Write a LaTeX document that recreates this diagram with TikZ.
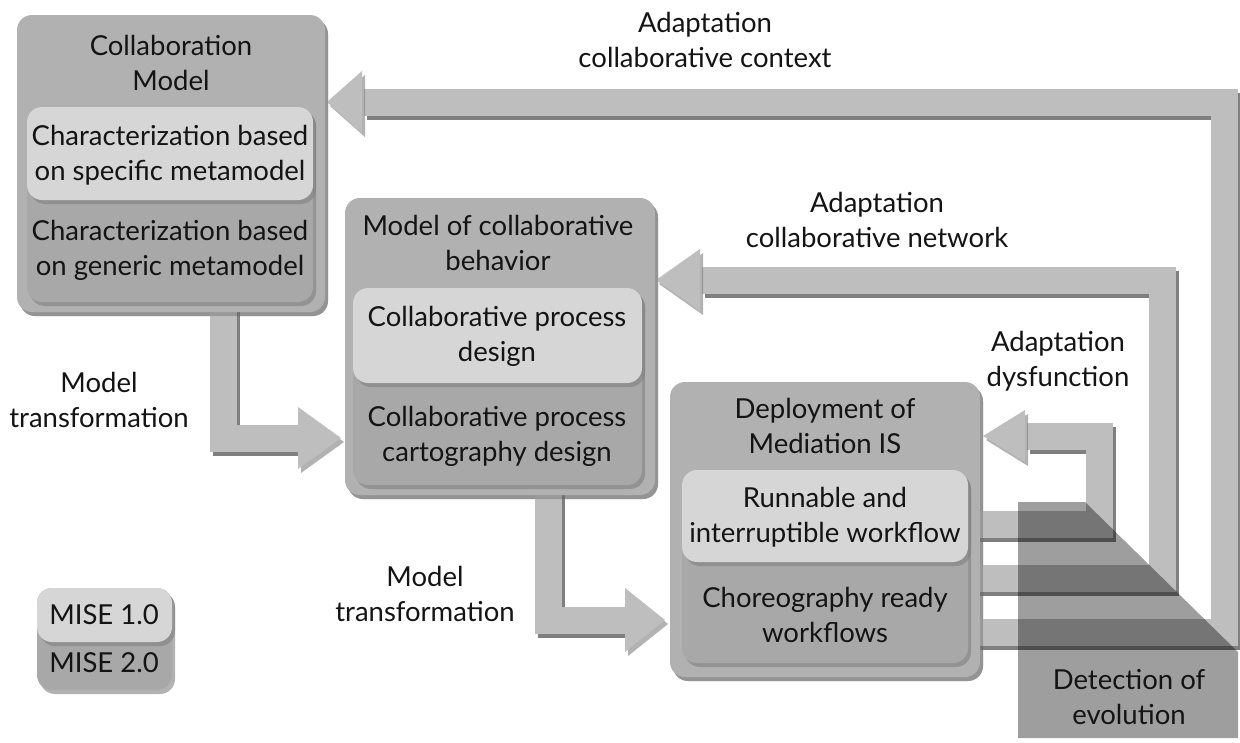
\documentclass[tikz,border=0pt]{standalone}
\usepackage{fontspec}
\setmainfont{Lato}
\usetikzlibrary{shadows,calc}
\definecolor{boxgray}{HTML}{B1B1B1}
\definecolor{lightfill}{HTML}{D6D6D6}
\definecolor{darkfill}{HTML}{A8A8A8}
\definecolor{bandgray}{HTML}{BEBEBE}
\tikzset{
  shadowed/.style={drop shadow={opacity=0.6,shadow xshift=3pt,shadow yshift=-4pt}},
  boxbase/.style={rectangle, rounded corners=15pt, draw=none, inner sep=0pt, outer sep=0pt, anchor=north west, shadowed},
  outerbox/.style={boxbase, fill=boxgray},
  lightbox/.style={boxbase, fill=lightfill},
  darkbox/.style={boxbase, fill=darkfill},
  band/.style={draw=bandgray, line width=27pt, line join=miter},
  bandshadow/.style={draw=black, opacity=0.5, line width=27pt, line join=miter, transform canvas={shift={(3pt,-4pt)}}},
  head/.style={fill=bandgray, draw=none, shadowed},
  txt/.style={font=\fontsize{27.5}{35}\selectfont, align=center, text=black!92, inner sep=0pt},
}
\begin{document}
\begin{tikzpicture}[x=1pt,y=-1pt]
\fill[white] (0,0) rectangle (1240,742);
\useasboundingbox (0,0) rectangle (1240,742);

% ---------- box frames (positions for the connectors) ----------
\path
  (17,15) node[outerbox, minimum width=308pt, minimum height=297pt, opacity=0, drop shadow={opacity=0}] (cm) {}
  (345,198) node[outerbox, minimum width=310pt, minimum height=297pt, opacity=0, drop shadow={opacity=0}] (mcb) {}
  (670,382) node[outerbox, minimum width=310pt, minimum height=295pt, opacity=0, drop shadow={opacity=0}] (dep) {};

% ---------- coordinates of connector corners ----------
\coordinate (a1c) at (223,438);
\coordinate (a1b) at (300,438);
\coordinate (a2c) at (548,620);
\coordinate (a2b) at (627,620);
\coordinate (f1s) at (975,524);
\coordinate (f1a) at (1099,524);
\coordinate (f1b) at (1099,436);
\coordinate (f1e) at (1027,436);
\coordinate (f2s) at (975,578);
\coordinate (f2a) at (1162,578);
\coordinate (f2b) at (1162,280);
\coordinate (f2e) at (702,280);
\coordinate (f3s) at (975,632);
\coordinate (f3a) at (1224,632);
\coordinate (f3b) at (1224,102);
\coordinate (f3e) at (364,102);

% ---------- band shadows ----------
\draw[bandshadow] ($(cm.south -| a1c)+(0,-10)$) -- (a1c) -- (a1b);
\draw[bandshadow] ($(mcb.south -| a2c)+(0,-10)$) -- (a2c) -- (a2b);
\draw[bandshadow] (f1s) -- (f1a) -- (f1b) -- (f1e);
\draw[bandshadow] (f2s) -- (f2a) -- (f2b) -- (f2e);
\draw[bandshadow] (f3s) -- (f3a) -- (f3b) -- (f3e);

% ---------- bands ----------
\draw[band] ($(cm.south -| a1c)+(0,-10)$) -- (a1c) -- (a1b);
\draw[band] ($(mcb.south -| a2c)+(0,-10)$) -- (a2c) -- (a2b);
\draw[band] (f1s) -- (f1a) -- (f1b) -- (f1e);
\draw[band] (f2s) -- (f2a) -- (f2b) -- (f2e);
\draw[band] (f3s) -- (f3a) -- (f3b) -- (f3e);

% ---------- arrow heads ----------
\fill[head] ($(a1b)+(-2,-31)$) -- ($(mcb.west |- a1b)+(-4,0)$) -- ($(a1b)+(-2,31)$) -- cycle;
\fill[head] ($(a2b)+(-2,-32)$) -- ($(dep.west |- a2b)+(-5,0)$) -- ($(a2b)+(-2,32)$) -- cycle;
\fill[head] ($(f1e)+(-2,-26)$) -- ($(dep.east |- f1e)+(3,0)$) -- ($(f1e)+(-2,26)$) -- cycle;
\fill[head] ($(f2e)+(-2,-31)$) -- ($(mcb.east |- f2e)+(1,0)$) -- ($(f2e)+(-2,31)$) -- cycle;
\fill[head] ($(f3e)+(-2,-31)$) -- ($(cm.east |- f3e)+(2,0)$) -- ($(f3e)+(-2,31)$) -- cycle;

% ---------- boxes ----------
\node[outerbox, minimum width=308pt, minimum height=297pt] (cmbox) at (17,15) {};
\node[darkbox, minimum width=286pt, minimum height=195pt] (cmd) at (27,107) {};
\node[lightbox, minimum width=286pt, minimum height=93pt] (cml) at (27,107) {};

\node[outerbox, minimum width=310pt, minimum height=297pt] (mcbbox) at (345,198) {};
\node[darkbox, minimum width=289pt, minimum height=197pt] (mcbd) at (353,288) {};
\node[lightbox, minimum width=289pt, minimum height=95pt] (mcbl) at (353,288) {};

\node[outerbox, minimum width=310pt, minimum height=295pt] (depbox) at (670,382) {};
\node[darkbox, minimum width=286pt, minimum height=193pt] (depd) at (682,470) {};
\node[lightbox, minimum width=286pt, minimum height=92pt] (depl) at (682,470) {};

\node[darkbox, minimum width=135pt, minimum height=102pt] (legd) at (37,588) {};
\node[lightbox, minimum width=135pt, minimum height=54pt] (legl) at (37,588) {};

% ---------- detection of evolution area ----------
\fill[black, opacity=0.38] (1018,502) -- (1085,502) -- (1238,652) -- (1238,738) -- (1018,738) -- cycle;

% ---------- texts ----------
\node[txt] (t1) at (171,63) {Collaboration\\Model};
\node[txt] (t1a) at (170,155) {Characterization based\\on specific metamodel};
\node[txt] (t1b) at (170,250) {Characterization based\\on generic metamodel};
\node[txt] (t2) at (498,243) {Model of collaborative\\behavior};
\node[txt] (t2a) at (497,336) {Collaborative process\\design};
\node[txt] (t2b) at (497,436) {Collaborative process\\cartography design};
\node[txt] (t3) at (825,426) {Deployment of\\Mediation IS};
\node[txt] (t3a) at (825,517) {Runnable and\\interruptible workflow};
\node[txt] (t3b) at (825,615) {Choreography ready\\workflows};
\node[txt] (l1) at (104,615) {MISE 1.0};
\node[txt] (l2) at (104,663) {MISE 2.0};
\node[txt] (m1) at (99,400) {Model\\transformation};
\node[txt] (m2) at (425,594) {Model\\transformation};
\node[txt] (ac) at (705,40) {Adaptation\\collaborative context};
\node[txt] (an) at (877,220) {Adaptation\\collaborative network};
\node[txt] (ad) at (1058,361) {Adaptation\\dysfunction};
\node[txt] (de) at (1129,697) {Detection of\\evolution};
\end{tikzpicture}
\end{document}
